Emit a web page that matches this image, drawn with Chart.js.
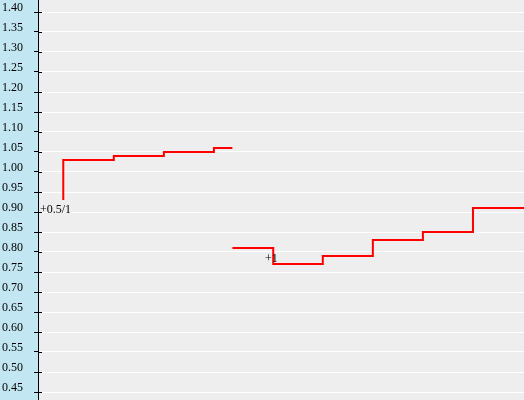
<!DOCTYPE html>
<html>
<head>
<meta charset="utf-8">
<script src="https://cdn.jsdelivr.net/npm/chart.js@4"></script>
<style>
  html, body { margin: 0; padding: 0; background: #eeeeee; }
  #wrap { width: 524px; height: 400px; }
</style>
</head>
<body>
<div id="wrap"><canvas id="chartCanvas"></canvas></div>
<script>
// Zeitachse (Minuten) und Quoten der beiden Linien
const line1X = [5.2, 5.2, 15.6, 25.9, 36.2, 40];
const line1Y = [0.93, 1.03, 1.04, 1.05, 1.06, 1.06];
const line2X = [40, 48.4, 58.6, 68.9, 79.2, 89.5, 100];
const line2Y = [0.81, 0.77, 0.79, 0.83, 0.85, 0.91, 0.91];

// Beschriftungen an den Linien
const markerText = ['+0.5/1', '+1'];
const markerX = [3.6, 48];
const markerY = [0.905, 0.783];

// Y-Achse
const tickValues = [0.45, 0.50, 0.55, 0.60, 0.65, 0.70, 0.75, 0.80, 0.85, 0.90,
                    0.95, 1.00, 1.05, 1.10, 1.15, 1.20, 1.25, 1.30, 1.35, 1.40];
const tickLabels = tickValues.map(v => v.toFixed(2));

Chart.defaults.font.family = '"Liberation Serif", "Times New Roman", serif';
Chart.defaults.font.size = 12;
Chart.defaults.color = '#000';

const toPoints = (xs, ys) => xs.map((x, i) => ({ x: x, y: ys[i] }));

// Hintergrund: blauer Streifen links, grauer Plotbereich
const backgroundPlugin = {
    id: 'backgroundPlugin',
    beforeDraw(chart) {
        const ctx = chart.ctx;
        const area = chart.chartArea;
        ctx.save();
        ctx.fillStyle = '#eeeeee';
        ctx.fillRect(0, 0, chart.width, chart.height);
        ctx.fillStyle = '#c2e7f3';
        ctx.fillRect(0, 0, area.left, chart.height);
        ctx.restore();
    }
};

// Kurze Striche nach innen und die Texte an den Linien
const markerPlugin = {
    id: 'markerPlugin',
    afterDatasetsDraw(chart) {
        const ctx = chart.ctx;
        const xs = chart.scales.x;
        const ys = chart.scales.y;
        ctx.save();
        ctx.strokeStyle = '#000';
        ctx.lineWidth = 1;
        tickValues.forEach(v => {
            const y = Math.round(ys.getPixelForValue(v)) + 0.5;
            ctx.beginPath();
            ctx.moveTo(ys.right, y);
            ctx.lineTo(ys.right + 4, y);
            ctx.stroke();
        });
        ctx.fillStyle = '#000';
        ctx.font = '12px "Liberation Serif", serif';
        ctx.textAlign = 'center';
        ctx.textBaseline = 'middle';
        markerText.forEach((t, i) => {
            ctx.fillText(t, xs.getPixelForValue(markerX[i]), ys.getPixelForValue(markerY[i]));
        });
        ctx.restore();
    }
};

const canvas = document.getElementById('chartCanvas');
new Chart(canvas.getContext('2d'), {
    type: 'line',
    data: {
        datasets: [
            {
                data: toPoints(line1X, line1Y),
                borderColor: '#ff0000',
                borderWidth: 2,
                pointRadius: 0,
                stepped: 'before',
                fill: false
            },
            {
                data: toPoints(line2X, line2Y),
                borderColor: '#ff0000',
                borderWidth: 2,
                pointRadius: 0,
                stepped: 'before',
                fill: false
            }
        ]
    },
    options: {
        responsive: true,
        maintainAspectRatio: false,
        animation: false,
        layout: { padding: 0 },
        plugins: {
            legend: { display: false },
            tooltip: { enabled: false }
        },
        scales: {
            x: {
                type: 'linear',
                display: false,
                min: 0,
                max: 100
            },
            y: {
                type: 'linear',
                min: 0.43,
                max: 1.43,
                afterFit(scale) {
                    scale.width = 38;
                    scale.paddingTop = 0;
                    scale.paddingBottom = 0;
                },
                afterBuildTicks(scale) {
                    scale.ticks = tickValues.map(v => ({ value: v }));
                },
                border: { color: '#000', width: 1 },
                grid: {
                    color: '#ffffff',
                    lineWidth: 1,
                    tickColor: '#000',
                    tickLength: 4
                },
                ticks: {
                    padding: 11,
                    labelOffset: -4,
                    color: '#000',
                    callback: (value, index) => tickLabels[index]
                }
            }
        }
    },
    plugins: [backgroundPlugin, markerPlugin]
});
</script>
</body>
</html>
